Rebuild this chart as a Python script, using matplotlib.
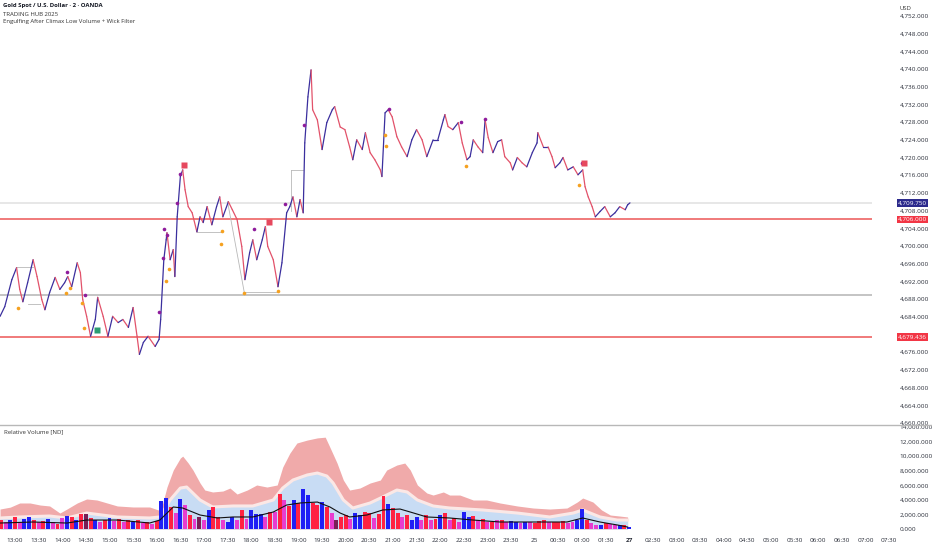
import numpy as np
import matplotlib
matplotlib.use("Agg")
import matplotlib.pyplot as plt
from matplotlib.transforms import blended_transform_factory
from matplotlib.lines import Line2D

plt.rcParams['font.family'] = ['Open Sans', 'DejaVu Sans']

# ---- price path (minutes after 13:00, price) ----
price_m = [-19, -13, -4, 2, 6, 10, 16, 23, 28, 34, 38, 44, 51, 57, 63, 67, 72, 79, 83, 86,
           91, 96, 102, 105, 112, 118, 124, 131, 137, 144, 150, 155, 158, 163, 169, 178, 183, 185, 189, 192,
           193, 197, 201, 203, 206, 210, 213, 216, 220, 225, 231, 235, 239, 244, 250, 256, 260, 264, 271, 276,
           282, 288, 292, 298, 302, 307, 314, 318, 321, 328, 334, 339, 345, 349, 353, 358, 362, 366, 368, 372,
           376, 378, 384, 390, 396, 403, 406, 413, 419, 425, 429, 434, 441, 445, 451, 457, 464, 466, 470, 474,
           479, 485, 491, 498, 504, 510, 517, 523, 531, 537, 544, 546, 550, 556, 563, 568, 574, 578, 582, 588,
           594, 597, 601, 607, 613, 618, 622, 629, 632, 638, 644, 650, 657, 663, 664, 671, 677, 682, 686, 692,
           696, 702, 709, 715, 721, 724, 728, 733, 737, 743, 749, 756, 762, 768, 775, 778, 781]
price_p = [4684.1, 4686.3, 4692.4, 4695.1, 4690.2, 4687.4, 4691.7, 4696.9, 4693.1, 4687.9,
           4685.6, 4689.5, 4692.9, 4690.2, 4691.7, 4693.1, 4690.8, 4696.2, 4694.0, 4687.9,
           4684.1, 4679.6, 4683.4, 4688.4, 4684.1, 4679.6, 4684.1, 4682.7, 4683.4, 4681.6,
           4686.1, 4679.6, 4675.5, 4678.2, 4679.6, 4677.3, 4678.9, 4683.4, 4696.9, 4701.4,
           4703.0, 4696.9, 4699.2, 4693.1, 4706.6, 4715.7, 4717.2, 4712.7, 4708.9, 4707.5,
           4703.2, 4706.6, 4705.3, 4708.9, 4704.8, 4708.9, 4711.1, 4706.6, 4710.0, 4708.2,
           4706.0, 4699.9, 4692.4, 4698.5, 4701.4, 4696.9, 4701.4, 4704.4, 4699.9, 4696.9,
           4690.8, 4696.2, 4707.5, 4708.9, 4711.1, 4706.6, 4710.5, 4707.5, 4723.3, 4733.7,
           4739.8, 4730.8, 4728.5, 4721.8, 4727.9, 4730.8, 4731.5, 4726.9, 4726.3, 4722.4,
           4719.5, 4724.0, 4721.8, 4725.6, 4721.1, 4719.5, 4717.2, 4715.7, 4730.1, 4730.8,
           4729.2, 4724.7, 4722.4, 4720.2, 4724.0, 4726.3, 4724.0, 4720.2, 4724.0, 4724.0,
           4728.5, 4729.7, 4727.0, 4726.3, 4727.9, 4723.3, 4719.5, 4720.2, 4724.0, 4722.4,
           4721.1, 4728.5, 4724.5, 4721.1, 4723.6, 4724.0, 4720.2, 4718.8, 4717.2, 4720.0,
           4718.8, 4717.9, 4721.1, 4723.3, 4725.6, 4722.4, 4722.4, 4720.2, 4717.7, 4718.8,
           4720.0, 4717.2, 4717.9, 4716.1, 4717.2, 4713.4, 4711.1, 4708.9, 4706.6, 4707.8,
           4708.9, 4706.6, 4707.5, 4708.9, 4708.2, 4709.3, 4709.75]

# signal markers
purple_m = [66, 89, 183, 188, 189, 193, 206, 210, 304, 343, 367, 475, 566, 597, 720]
purple_p = [4694.2, 4689.0, 4685.2, 4697.2, 4703.9, 4702.6, 4709.8, 4716.3, 4703.9, 4709.6,
            4727.4, 4731.0, 4728.1, 4728.8, 4718.8]
orange_m = [4, 65, 70, 85, 88, 192, 196, 262, 263, 291, 334, 470, 471, 573, 716]
orange_p = [4686.1, 4689.3, 4690.4, 4687.2, 4681.4, 4692.2, 4694.7, 4700.5, 4703.5, 4689.3,
            4689.9, 4725.1, 4722.7, 4718.1, 4713.9]
sell_m = [215, 323, 723]
sell_p = [4718.4, 4705.5, 4718.8]
buy_m = [104]
buy_p = [4681.1]

# light gray pivot lines
gray_segs = [((270, 4710.0), (291, 4689.7)), ((291, 4689.7), (334, 4689.7)),
             ((351, 4717.2), (366, 4717.2)), ((351, 4717.2), (351, 4708.0)),
             ((231, 4703.2), (262, 4703.2)), ((2, 4695.3), (23, 4695.3)),
             ((16, 4687.0), (32, 4687.0))]

levels_red = [4706.0, 4679.436]
level_gray = 4689.0
last_price = 4709.75

# ---- relative volume pane (thousands) ----
vol_m = np.arange(-18, 781, 6)
vol_v = [1.2, 0.9, 1.3, 1.6, 1.0, 1.4, 1.7, 1.2, 0.9, 1.1,
         1.4, 1.0, 0.7, 1.5, 1.8, 1.6, 1.2, 2.0, 2.1, 1.5,
         1.2, 0.9, 1.3, 1.5, 1.1, 1.4, 1.0, 1.3, 0.9, 1.2,
         0.8, 1.0, 0.7, 1.1, 3.8, 4.3, 3.0, 2.2, 4.1, 3.3,
         1.9, 1.4, 1.6, 1.2, 2.6, 3.0, 1.6, 1.3, 1.0, 1.6,
         1.2, 2.6, 1.4, 2.6, 2.0, 2.1, 1.7, 2.4, 2.3, 4.8,
         4.0, 3.2, 4.0, 3.6, 5.5, 4.7, 3.6, 3.3, 3.7, 3.0,
         2.2, 1.2, 1.6, 1.9, 1.4, 2.2, 1.9, 2.3, 2.2, 1.5,
         2.0, 4.5, 3.4, 2.9, 2.2, 1.6, 1.9, 1.3, 1.6, 1.2,
         1.9, 1.3, 1.4, 1.9, 2.2, 1.2, 1.5, 1.0, 2.3, 1.6,
         1.8, 1.2, 1.4, 1.0, 1.0, 1.2, 1.3, 0.9, 1.1, 1.0,
         0.8, 1.0, 0.9, 0.8, 1.1, 1.3, 1.0, 0.9, 1.0, 1.1,
         0.8, 1.0, 1.3, 2.7, 1.2, 0.8, 0.6, 0.5, 0.8, 0.7,
         0.5, 0.6, 0.5, 0.3]
vol_c = ("rmbrmbbrmr" "bmrmbrbrdr" "bmrbmrmrbr" "mrmrbbrmbm" "rmdmbrrmbb"
         "mrmbbbmrmr" "mrbrbbrrbr" "mdrrmbbrrm" "rrbrrmrbbm" "rmrbrmrmbb"
         "rmrmrmrmbb" "mbmrrrmrrr" "mmbbrmmbrm" "mbrb")

pink_m = [-19, -6, 6, 19, 32, 44, 57, 66, 79, 91, 104, 117, 130, 150, 171, 182, 187, 193, 201, 210,
          213, 220, 226, 235, 241, 251, 264, 273, 282, 295, 307, 320, 333, 340, 349, 358, 371, 384, 394, 400,
          409, 417, 425, 438, 451, 464, 472, 485, 495, 502, 511, 523, 531, 544, 552, 565, 582, 599, 616, 638,
          658, 679, 701, 714, 721, 734, 745, 756, 768, 778]
pink_v = [2.74, 3.0, 3.57, 3.57, 3.29, 3.16, 2.19, 2.74, 3.57, 4.12, 3.98, 3.57, 3.16, 3.02, 3.02, 2.61,
          3.29, 5.76, 8.09, 9.74, 10.0, 9.05, 8.09, 6.31, 5.35, 5.08, 5.21, 5.62, 4.80, 5.35, 6.04, 5.76,
          6.04, 8.50, 10.4, 11.8, 12.2, 12.5, 12.6, 11.2, 9.05, 6.72, 5.35, 5.62, 6.31, 6.72, 8.09, 8.78,
          9.05, 8.09, 6.04, 4.94, 4.66, 5.08, 4.66, 4.66, 3.98, 3.98, 3.57, 3.16, 2.88, 2.74, 2.88, 3.70,
          4.25, 3.70, 2.61, 1.92, 1.78, 1.65]
blue_m = [-19, 6, 44, 66, 91, 130, 171, 184, 197, 210, 218, 235, 251, 277, 302, 328, 340, 353, 371, 384,
          396, 404, 417, 429, 451, 467, 485, 498, 511, 531, 552, 594, 638, 679, 709, 721, 743, 765, 778]
blue_v = [1.51, 1.65, 1.78, 1.51, 2.19, 1.65, 1.51, 1.65, 3.98, 5.62, 5.76, 3.98, 3.02, 3.16, 3.16, 3.98,
          5.62, 6.72, 7.41, 7.68, 7.27, 6.31, 3.98, 2.88, 3.57, 4.39, 5.35, 5.08, 3.98, 3.16, 2.88, 2.61,
          2.19, 1.65, 2.19, 2.61, 1.65, 1.23, 1.23]
ma_m = [-19, 23, 66, 91, 130, 171, 184, 201, 213, 235, 257, 277, 302, 328, 345, 362, 384, 400, 413, 425,
        447, 467, 489, 502, 523, 552, 582, 616, 658, 701, 721, 743, 765, 778]
ma_v = [0.82, 0.96, 0.82, 1.23, 1.23, 0.82, 1.23, 3.02, 2.88, 1.92, 1.51, 1.65, 1.65, 2.33, 3.29, 3.57,
        3.70, 3.02, 2.19, 1.65, 1.92, 2.61, 2.74, 2.33, 1.65, 1.51, 1.23, 0.96, 0.96, 0.96, 1.51, 0.96,
        0.55, 0.27]

time_labels = ['13:00', '13:30', '14:00', '14:30', '15:00', '15:30', '16:00', '16:30', '17:00', '17:30',
               '18:00', '18:30', '19:00', '19:30', '20:00', '20:30', '21:00', '21:30', '22:00', '22:30',
               '23:00', '23:30', '25', '00:30', '01:00', '01:30', '27', '02:30', '03:00', '03:30',
               '04:00', '04:30', '05:00', '05:30', '06:00', '06:30', '07:00', '07:30']

W, H = 932, 550
fig = plt.figure(figsize=(W / 100, H / 100), dpi=100)
ax = fig.add_axes([0, 1 - 425 / H, 872 / W, 425 / H])
axv = fig.add_axes([0, 1 - 535 / H, 872 / W, 110 / H], sharex=ax)

UP, DN = '#3b2f9e', '#e2526a'
TXT = '#2a2e39'

# price pane
for (a, b) in gray_segs:
    ax.plot([a[0], b[0]], [a[1], b[1]], color='#b8b8b8', lw=0.6, zorder=2)
ax.axhline(last_price, color='#e3e3e3', lw=1.2, zorder=1)
ax.axhline(level_gray, color='#b4b4b4', lw=1.1, zorder=1)
for lv in levels_red:
    ax.axhline(lv, color='#f07a7a', lw=1.4, zorder=1)

for i in range(len(price_m) - 1):
    c = UP if price_p[i + 1] >= price_p[i] else DN
    ax.plot(price_m[i:i + 2], price_p[i:i + 2], color=c, lw=0.9, solid_capstyle='round', zorder=3)

ax.plot(purple_m, purple_p, 'o', color='#8e1b9c', ms=2.6, mec='none', zorder=4)
ax.plot(orange_m, orange_p, 'o', color='#f5a11f', ms=2.6, mec='none', zorder=4)
ax.plot(sell_m, sell_p, 's', color='#e6485e', ms=4.2, mec='none', zorder=4)
ax.plot(buy_m, buy_p, 's', color='#2d9d72', ms=4.2, mec='none', zorder=4)

ax.set_xlim(-19.05, 1088.4)
ax.set_ylim(4659.55, 4755.6)
ax.set_yticks(np.arange(4660, 4753, 4))
ax.set_yticklabels([f'{v:,.3f}' for v in np.arange(4660, 4753, 4)])

# price labels on the axis
tr = blended_transform_factory(fig.transFigure, ax.transData)
for lv, col in [(last_price, '#2c2a8c'), (levels_red[0], '#f23645'), (levels_red[1], '#f23645')]:
    fig.text(898 / W, lv, f'{lv:,.3f}', transform=tr, fontsize=4.6, color='white', va='center',
             ha='left', bbox=dict(boxstyle='square,pad=0.18', fc=col, ec='none'), zorder=5)

# volume pane
vscale = 1000
axv.fill_between(pink_m, 0, np.array(pink_v) * vscale, color='#f0aaaa', lw=0, zorder=1)
axv.fill_between(blue_m, 0, np.array(blue_v) * vscale, color='#c8dcf4', lw=0, zorder=2)
axv.plot(blue_m, np.array(blue_v) * vscale, color='#fbe8e6', lw=2.2, zorder=2.5)
cmap = {'b': '#1f1ff5', 'r': '#ff2242', 'm': '#e83ccf', 'd': '#7a1f55'}
axv.bar(vol_m, np.array(vol_v) * vscale, width=5.0, color=[cmap[c] for c in vol_c], lw=0, zorder=3)
axv.plot(ma_m, np.array(ma_v) * vscale, color='#111111', lw=0.8, zorder=4)
axv.set_ylim(-823, 14270)
axv.set_yticks(np.arange(0, 14001, 2000))
axv.set_yticklabels([f'{v:,.3f}' for v in np.arange(0, 14001, 2000)])

for a in (ax, axv):
    a.yaxis.tick_right()
    a.tick_params(axis='y', length=0, pad=20, labelsize=4.6, labelcolor=TXT)
    a.tick_params(axis='x', length=0, labelbottom=False)
    for s in a.spines.values():
        s.set_visible(False)
    a.set_facecolor('none')

# time axis labels
trt = blended_transform_factory(axv.transData, fig.transFigure)
for k, lab in enumerate(time_labels):
    axv.text(k * 30, 1 - 541 / H, lab, transform=trt, ha='center', va='center', fontsize=4.6,
             color=TXT, fontweight='bold' if lab == '27' else 'normal', clip_on=False)

# pane separator
fig.add_artist(Line2D([0, 1], [1 - 425 / H, 1 - 425 / H], transform=fig.transFigure,
                      color='#b8b8b8', lw=1.0))

# header texts
fig.text(3 / W, 1 - 6 / H, 'Gold Spot / U.S. Dollar · 2 · OANDA', fontsize=4.3, fontweight='bold',
         color='#131722', va='center')
fig.text(3 / W, 1 - 14 / H, 'TRADING HUB 2025', fontsize=4.3, color='#333333', va='center')
fig.text(3 / W, 1 - 22 / H, 'Engulfing After Climax Low Volume + Wick Filter', fontsize=4.3,
         color='#333333', va='center')
fig.text(4 / W, 1 - 432 / H, 'Relative Volume [ND]', fontsize=4.3, color='#333333', va='center')
fig.text(899 / W, 1 - 8 / H, 'USD', fontsize=4.3, color='#333333', va='center')

fig.savefig('out.png', dpi=100, facecolor='white')
